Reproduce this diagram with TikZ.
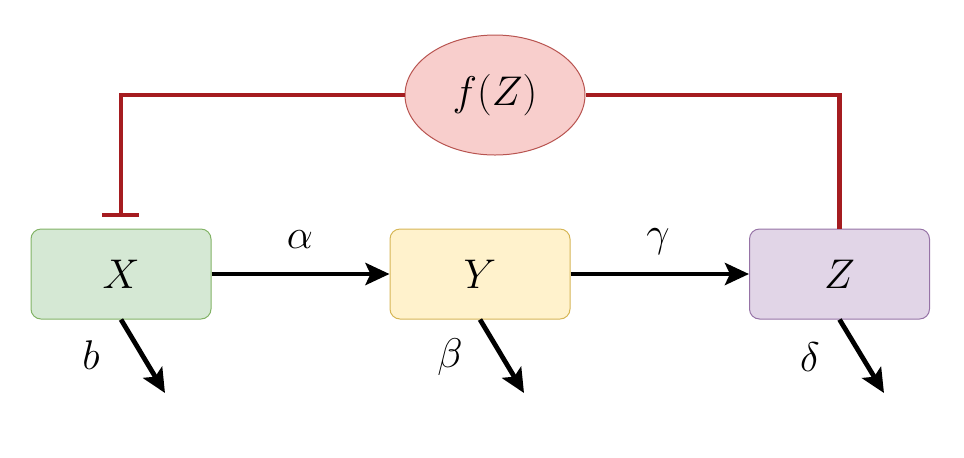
\documentclass[tikz,border=0pt]{standalone}
\usetikzlibrary{arrows.meta,shapes.geometric}
\definecolor{gfill}{HTML}{D5E8D4}\definecolor{gdraw}{HTML}{82B366}
\definecolor{yfill}{HTML}{FFF2CC}\definecolor{ydraw}{HTML}{D6B656}
\definecolor{pfill}{HTML}{E1D5E7}\definecolor{pdraw}{HTML}{9673A6}
\definecolor{rfill}{HTML}{F8CECC}\definecolor{rdraw}{HTML}{B85450}
\definecolor{inhib}{HTML}{A51C20}
\begin{document}
\begin{tikzpicture}[x=0.5pt,y=-0.5pt,
  species/.style={draw, line width=0.5pt, rounded corners=5pt, minimum width=90pt, minimum height=45pt, inner sep=0pt, font=\fontsize{20.74}{25}\selectfont},
  regnode/.style={ellipse, draw=rdraw, fill=rfill, line width=0.5pt, minimum width=90pt, minimum height=60pt, inner sep=0pt, font=\fontsize{20.74}{25}\selectfont},
  flow/.style={line width=2.4pt, -{Stealth[length=12pt,width=11pt,inset=2.5pt]}},
  feedback/.style={draw=inhib, line width=2.4pt},
  lab/.style={font=\fontsize{20.74}{25}\selectfont, inner sep=0pt}]
\useasboundingbox (0,0) rectangle (964,457);
\node[species, fill=gfill, draw=gdraw] (X) at (121,274) {$X$};
\node[species, fill=yfill, draw=ydraw] (Y) at (480,274) {$Y$};
\node[species, fill=pfill, draw=pdraw] (Z) at (839.5,274) {$Z$};
\node[regnode] (F) at (495,95) {$f(Z)$};
\coordinate (xd) at (165,393);
\coordinate (yd) at (524,393);
\coordinate (zd) at (884,393);
\draw[flow] (X.east) -- (Y.west);
\draw[flow] (Y.east) -- (Z.west);
\draw[flow] (X.south) -- (xd);
\draw[flow] (Y.south) -- (yd);
\draw[flow] (Z.south) -- (zd);
\draw[feedback] (F.west) -| (121,215);
\draw[feedback] (102,215) -- (139,215);
\draw[feedback] (F.east) -| (Z.north);
\node[lab] (la) at (300,240) {$\alpha$};
\node[lab] (lg) at (658,242) {$\gamma$};
\node[lab] (lb) at (91,355) {$b$};
\node[lab] (lbe) at (450,357) {$\beta$};
\node[lab] (ld) at (810,357) {$\delta$};
\end{tikzpicture}
\end{document}
